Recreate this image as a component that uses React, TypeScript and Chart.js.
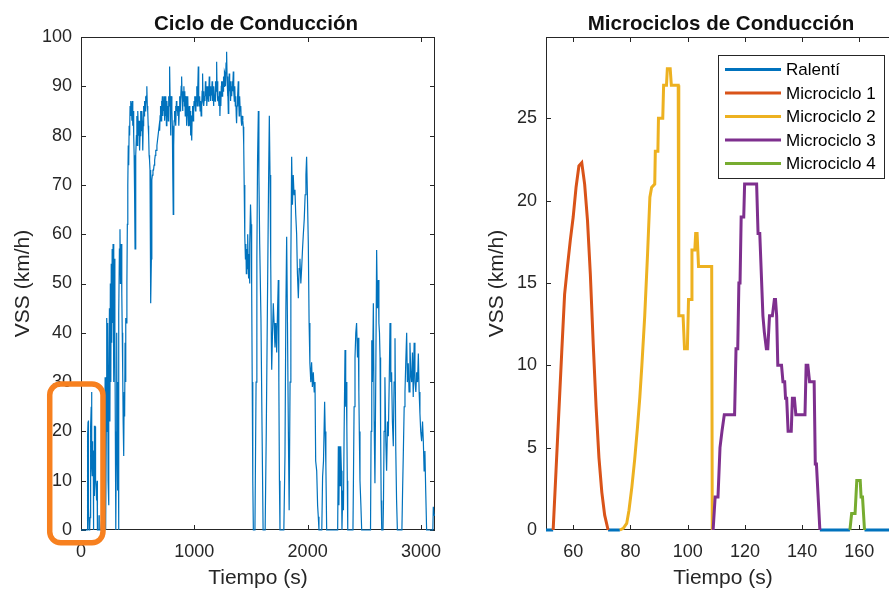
import React, { useEffect, useRef } from "react";
import { Chart, registerables } from "chart.js";

Chart.register(...registerables);

const FONT = "'Liberation Sans', Arial, Helvetica, sans-serif";
const AXIS_COLOR = "#262626";

// ---------- Left panel: full driving cycle, [time s, speed km/h] ----------
const cycleStart: [number, number][] = [
  [0, 0], [20, 0], [40, 0], [50, 0], [53, 0], [56, 10.5], [58, 16], [60, 19], [62, 22], [63, 22.2],
  [65, 18.5], [67, 11], [69, 4.5], [72, 0], [76, 0], [78, 0.3], [80, 2.5], [82, 6.5], [84, 10.5], [86, 16.5],
  [88, 21], [90, 25], [92, 27], [93, 28], [96, 27], [97, 13], [99, 11], [101, 14], [103, 18], [104, 16],
  [108, 16], [109, 0], [110, 2], [112, 5], [113, 7], [116, 7], [117, 11], [118, 15], [119, 19], [120, 21],
  [124, 21], [125, 18], [126, 13], [127, 11], [128, 13], [130, 14], [131, 13], [132, 10], [134, 8], [135, 6],
  [137, 8], [138, 7], [141, 7], [142, 10], [144, 9], [145, 4], [146, 0], [157, 0], [158, 1], [159, 3],
  [160, 3], [161, 2], [162, 0], [175, 0], [182, 2], [190, 0], [205, 0],
];
const cycleUrban1: [number, number][] = [
  [210, 22], [213, 31], [216, 15], [219, 0], [223, 20], [227, 43], [231, 30], [235, 42], [239, 10], [243, 5],
  [247, 28], [251, 45], [255, 22], [259, 50], [263, 30], [267, 54], [271, 38], [275, 57], [279, 42], [283, 58],
  [287, 48], [291, 30], [295, 55], [299, 40], [303, 20], [307, 0], [311, 15], [315, 40], [319, 20], [323, 8],
  [327, 30], [331, 0], [335, 44], [339, 57], [344, 61], [348, 50], [352, 56], [356, 58], [360, 48], [364, 40],
  [368, 32], [372, 22], [377, 15], [381, 28], [385, 23], [389, 38], [393, 30], [397, 43], [401, 42], [405, 50],
  [409, 62], [413, 70], [417, 78],
];
const cycleHighway: [number, number][] = [
  [421, 74], [425, 82], [429, 80], [433, 86], [437, 84], [441, 87], [445, 86], [449, 83], [453, 87], [457, 82],
  [461, 85], [465, 80], [469, 76], [473, 68], [477, 57], [481, 68], [485, 76], [489, 80], [493, 84], [497, 78],
  [501, 85], [505, 82], [509, 80], [513, 83], [517, 77], [521, 80], [525, 83], [529, 85], [533, 81], [537, 85],
  [541, 83], [545, 77], [549, 82], [553, 86], [557, 84], [561, 87], [565, 85], [569, 88], [573, 86], [577, 88],
  [581, 90], [585, 86], [589, 85], [593, 82], [597, 80], [601, 76], [605, 75], [609, 73], [613, 70], [617, 46],
  [621, 55], [625, 71], [630, 72], [635, 73], [640, 73], [645, 74], [650, 75], [655, 76], [660, 77], [665, 77],
  [670, 78], [675, 79], [680, 80], [685, 80], [690, 82], [694, 81], [698, 84], [702, 86], [706, 83], [710, 87],
  [714, 85], [718, 88], [722, 84], [726, 87], [730, 85], [734, 88], [738, 83], [742, 86], [746, 84], [750, 88],
  [754, 82], [758, 87], [762, 84], [766, 86], [770, 83], [774, 88], [778, 86], [782, 94], [786, 88], [790, 80],
  [794, 86], [798, 88], [802, 85], [806, 82], [810, 72], [814, 64], [818, 78], [822, 83], [826, 85], [830, 84],
  [834, 86], [838, 82], [842, 87], [846, 85], [850, 86], [855, 84], [859, 86], [863, 82], [867, 85], [871, 88],
  [875, 85], [879, 87], [884, 90], [888, 92], [892, 88], [896, 85], [900, 89], [904, 87], [908, 90], [912, 86],
  [916, 89], [920, 84], [924, 87], [928, 88], [932, 82], [936, 85], [940, 84], [944, 88], [948, 82], [952, 85],
  [956, 86], [960, 82], [964, 85], [968, 80], [972, 84], [977, 79], [981, 84], [985, 86], [990, 83], [994, 85],
  [998, 87], [1002, 86], [1006, 88], [1010, 85], [1014, 88], [1018, 87], [1022, 90], [1026, 86], [1030, 89], [1035, 94],
  [1039, 88], [1043, 86], [1047, 88], [1051, 85], [1055, 87], [1060, 84], [1065, 86], [1069, 89], [1073, 92.6], [1077, 87],
  [1081, 89], [1085, 86], [1089, 88], [1094, 87], [1098, 91], [1102, 88], [1106, 90], [1110, 86], [1115, 89], [1120, 90],
  [1124, 87], [1128, 89], [1132, 92], [1136, 88], [1140, 90], [1144, 87], [1148, 89], [1153, 88.6], [1157, 91], [1161, 87],
  [1165, 89], [1169, 86], [1173, 90], [1177, 88], [1183, 87], [1187, 91], [1192, 89], [1197, 95], [1201, 89], [1205, 91],
  [1209, 87], [1213, 88], [1217, 86], [1222, 89], [1226, 84], [1230, 88], [1234, 86], [1238, 90], [1241, 91], [1245, 88],
  [1250, 91], [1254, 89], [1258, 92], [1262, 90], [1266, 93], [1271, 92.6], [1275, 90], [1280, 94.7], [1285, 97], [1289, 92],
  [1293, 88], [1297, 90], [1300, 84.5], [1304, 88], [1308, 92.6], [1312, 89], [1316, 91], [1320, 87], [1325, 90], [1330, 88],
  [1334, 91], [1338, 89], [1344, 93], [1348, 89], [1353, 87], [1357, 90], [1362, 86], [1366, 88], [1370, 84], [1373, 82.5],
  [1377, 86], [1382, 88], [1388, 91], [1392, 87], [1396, 84], [1400, 88], [1405, 85], [1410, 86], [1414, 83], [1418, 82],
  [1423, 84], [1428, 83], [1432, 81.8],
];
const cycleDescent: [number, number][] = [
  [1436, 78], [1440, 70], [1444, 62], [1447, 59.5], [1451, 55], [1455, 58], [1459, 52], [1463, 57], [1467, 53], [1471, 60],
  [1475, 55], [1479, 51], [1483, 56], [1487, 50], [1491, 58], [1496, 66], [1501, 62], [1506, 50], [1511, 30], [1516, 10],
  [1521, 0], [1535, 0], [1545, 30], [1552, 55], [1558, 75], [1565, 85], [1570, 72], [1577, 58], [1588, 43], [1598, 20],
  [1607, 0], [1625, 0], [1635, 20], [1645, 45], [1655, 70], [1662, 84], [1668, 72], [1674, 55], [1680, 38], [1683, 32.5],
  [1690, 40], [1697, 46], [1704, 42], [1712, 37], [1720, 42], [1727, 36], [1734, 44], [1741, 50.7], [1746, 30], [1751, 10],
  [1756, 0], [1790, 0], [1800, 15], [1808, 45], [1815, 59.5], [1822, 42], [1830, 20], [1837, 4], [1845, 30], [1852, 55],
  [1859, 75.7], [1866, 66], [1873, 72], [1880, 68], [1888, 69], [1895, 64], [1903, 60], [1910, 52], [1918, 47], [1925, 53],
  [1932, 55], [1940, 50], [1947, 53], [1955, 57], [1962, 60], [1970, 63], [1978, 68], [1985, 72], [1991, 75.7], [1998, 68],
  [2006, 58], [2013, 42], [2020, 33.8], [2028, 30], [2035, 34], [2042, 29], [2050, 32], [2058, 28], [2065, 30], [2071, 14],
  [2080, 12], [2088, 5], [2094, 2.7], [2100, 0], [2125, 0], [2132, 10.8], [2140, 14], [2150, 26], [2155, 20], [2161, 13],
  [2168, 0],
];
const cycleUrban2: [number, number][] = [
  [2265, 0], [2271, 17], [2276, 5], [2281, 17], [2287, 9], [2292, 17], [2298, 12], [2303, 0], [2310, 8], [2316, 4],
  [2322, 20], [2330, 36.5], [2336, 25], [2341, 30], [2346, 21], [2350, 10], [2354, 0], [2400, 0], [2405, 12], [2410, 25],
  [2418, 35], [2425, 40], [2432, 42], [2440, 35], [2447, 39], [2452, 28], [2456, 20], [2462, 10], [2470, 5], [2477, 0],
  [2555, 0], [2560, 20], [2566, 38.5], [2572, 30], [2580, 46], [2587, 22], [2594, 9.5], [2601, 30], [2609, 56.8], [2616, 45],
  [2624, 50.7], [2629, 42], [2634, 40], [2639, 35], [2644, 20], [2649, 6], [2654, 0], [2665, 0], [2669, 5], [2675, 20],
  [2682, 31], [2690, 18], [2697, 12], [2705, 22], [2712, 19], [2720, 30], [2727, 42], [2734, 30], [2741, 32], [2748, 22],
  [2756, 17], [2763, 30], [2771, 38.9], [2778, 16], [2785, 6], [2792, 0], [2832, 0], [2838, 8], [2844, 15], [2852, 25],
  [2859, 28], [2866, 34], [2874, 40], [2880, 30], [2888, 33.8], [2895, 28], [2903, 38], [2910, 32], [2918, 30], [2925, 36],
  [2932, 27], [2940, 38], [2947, 30], [2955, 28], [2962, 32], [2970, 30], [2977, 35.8], [2984, 28], [2991, 23.7], [2998, 20],
  [3006, 18], [3014, 22], [3021, 18], [3028, 12], [3035, 16], [3042, 8], [3050, 0], [3105, 0], [3109, 4.7], [3116, 3],
  [3124, 3],
];

const leftXTicks = [0, 1000, 2000, 3000];
const leftYTicks = [0, 10, 20, 30, 40, 50, 60, 70, 80, 90, 100];
const highlightTime = [-276, 194];
const highlightSpeed = [-2.6, 29.6];

// ---------- Right panel: micro-cycles ----------
const idleTime = [50.5, 53, 53, 72.2, 76.3, 76.3, 146.2, 156.7, 156.7, 161.8, 175];
const idleSpeed = [0, 0, null, 0, 0, null, 0, 0, null, 0, 0];

const micro1Time = [53, 54, 55, 56, 57, 58, 59, 60, 61, 62, 63, 64, 65, 66, 67, 68, 69, 70, 71, 72.2];
const micro1Speed = [0, 3.6, 7.2, 10.8, 14.3, 16, 17.6, 19, 20.8, 22.1, 22.3, 21, 18.8, 15.5, 11.3, 7.5, 4.4, 2.3, 0.9, 0];

const micro2Time = [76.3, 77.5, 78.7, 79.5, 80.5, 81.5, 82.5, 83.3, 84, 85, 86, 86.8, 87.4, 88.5, 88.7, 89.6, 89.8, 91.3, 91.6, 92.6, 92.9, 93.9, 94.3, 96.7, 96.9, 98.4, 98.9, 99.9, 100.3, 101.2, 101.5, 102.5, 102.8, 103.3, 103.8, 108.4, 108.6];
const micro2Speed = [0, 0.1, 0.4, 1.2, 2.6, 4.3, 6.3, 8.1, 10, 13, 16.8, 20.2, 20.8, 21, 23, 23, 25, 25, 27, 27, 28, 28, 27, 27, 13, 13, 11, 11, 14, 14, 17, 17, 18, 18, 16, 16, 0];

const micro3Time = [108.9, 109.6, 110.6, 111.3, 112, 112.8, 116.4, 116.9, 117.5, 117.9, 118.3, 118.7, 119.6, 119.9, 124.1, 124.6, 125.2, 126.3, 126.8, 127.5, 128, 128.6, 129.6, 130.3, 130.7, 131.1, 131.5, 132.8, 133.3, 133.9, 134.2, 134.6, 135.1, 136.2, 136.6, 137.3, 137.8, 141, 141.4, 142, 142.6, 144.2, 144.6, 145, 146.2];
const micro3Speed = [0, 2, 2, 5, 6, 7, 7, 11, 11, 15, 15, 19, 19, 21, 21, 18, 18, 13, 12, 11, 11, 13, 13, 14, 14, 13, 10, 10, 9, 9, 8, 8, 6, 6, 8, 8, 7, 7, 10, 10, 9, 9, 4, 4, 0];

const micro4Time = [156.7, 157.3, 158.5, 159.1, 160.3, 160.6, 161.1, 161.8];
const micro4Speed = [0, 1, 1, 3, 3, 2, 2, 0];

const rightXTicks = [60, 80, 100, 120, 140, 160];
const rightYTicks = [0, 5, 10, 15, 20, 25];

const seriesLabels = ["Ralentí", "Microciclo 1", "Microciclo 2", "Microciclo 3", "Microciclo 4"];
const seriesColors = ["#0072BD", "#D95319", "#EDB120", "#7E2F8E", "#77AC30"];

// ---------- plugins ----------
const boxPlugin = {
  id: "matlabBox",
  beforeDatasetsDraw(chart: any) {
    const { ctx, chartArea: a, scales } = chart;
    ctx.save();
    ctx.strokeStyle = AXIS_COLOR;
    ctx.lineWidth = 1;
    ctx.strokeRect(a.left + 0.5, a.top + 0.5, a.right - a.left - 1, a.bottom - a.top - 1);
    const len = 5;
    ctx.beginPath();
    for (const t of scales.x.ticks) {
      const px = Math.round(scales.x.getPixelForValue(t.value)) + 0.5;
      ctx.moveTo(px, a.bottom);
      ctx.lineTo(px, a.bottom - len);
      ctx.moveTo(px, a.top);
      ctx.lineTo(px, a.top + len);
    }
    for (const t of scales.y.ticks) {
      const py = Math.round(scales.y.getPixelForValue(t.value)) + 0.5;
      ctx.moveTo(a.left, py);
      ctx.lineTo(a.left + len, py);
      ctx.moveTo(a.right, py);
      ctx.lineTo(a.right - len, py);
    }
    ctx.stroke();
    ctx.restore();
  },
};

const panelTitlePlugin = {
  id: "panelTitle",
  afterDraw(chart: any, _args: any, opts: any) {
    const { ctx, chartArea: a } = chart;
    ctx.save();
    ctx.font = `bold 20.5px ${FONT}`;
    ctx.fillStyle = "#111111";
    ctx.textAlign = "center";
    ctx.textBaseline = "alphabetic";
    ctx.fillText(opts.text, (a.left + a.right) / 2 - 2, 29.5);
    ctx.restore();
  },
};

const highlightPlugin = {
  id: "highlight",
  afterDatasetsDraw(chart: any) {
    const { ctx, scales } = chart;
    const x0 = scales.x.getPixelForValue(highlightTime[0]);
    const x1 = scales.x.getPixelForValue(highlightTime[1]);
    const y0 = scales.y.getPixelForValue(highlightSpeed[1]);
    const y1 = scales.y.getPixelForValue(highlightSpeed[0]);
    ctx.save();
    ctx.strokeStyle = "#F7801F";
    ctx.lineWidth = 5.5;
    ctx.beginPath();
    ctx.roundRect(x0, y0, x1 - x0, y1 - y0, 11);
    ctx.stroke();
    ctx.restore();
  },
};

const boxLegendPlugin = {
  id: "boxLegend",
  afterDraw(chart: any) {
    const { ctx, chartArea: a } = chart;
    const bx = a.right - 182;
    const by = a.top + 18;
    const bw = 166;
    const bh = 123;
    ctx.save();
    ctx.fillStyle = "#ffffff";
    ctx.fillRect(bx, by, bw, bh);
    ctx.strokeStyle = AXIS_COLOR;
    ctx.lineWidth = 1;
    ctx.strokeRect(bx + 0.5, by + 0.5, bw, bh);
    ctx.font = `17px ${FONT}`;
    ctx.textBaseline = "middle";
    ctx.textAlign = "left";
    chart.data.datasets.forEach((ds: any, i: number) => {
      const y = by + 14.5 + i * 23.5;
      ctx.strokeStyle = ds.borderColor;
      ctx.lineWidth = 3;
      ctx.beginPath();
      ctx.moveTo(bx + 7, y);
      ctx.lineTo(bx + 63, y);
      ctx.stroke();
      ctx.fillStyle = "#000000";
      ctx.fillText(ds.label, bx + 68, y + 1);
    });
    ctx.restore();
  },
};

function axisConfig(
  min: number,
  max: number,
  ticks: number[],
  title: string,
  isX: boolean,
  size: number
) {
  return {
    type: "linear",
    min,
    max,
    afterBuildTicks: (s: any) => {
      s.ticks = ticks.map((v) => ({ value: v }));
    },
    afterFit: (s: any) => {
      if (isX) s.height = size;
      else s.width = size;
    },
    grid: { display: false, drawTicks: false, tickLength: 0 },
    border: { display: false },
    ticks: {
      autoSkip: false,
      maxRotation: 0,
      padding: isX ? 11 : 9,
      color: AXIS_COLOR,
      font: { family: FONT, size: 18 },
      callback: (v: any) => String(v),
    },
    title: {
      display: true,
      text: title,
      color: AXIS_COLOR,
      font: { family: FONT, size: 21, lineHeight: 1.1 },
      padding: isX ? { top: 0, bottom: 0 } : { top: 12, bottom: 0 },
    },
  };
}

const toPoints = (pairs: [number, number][]) => pairs.map(([x, y]) => ({ x, y }));
const zipPoints = (xs: number[], ys: (number | null)[]) => xs.map((x, i) => ({ x, y: ys[i] }));

export default function App() {
  const leftRef = useRef<HTMLCanvasElement>(null);
  const rightRef = useRef<HTMLCanvasElement>(null);

  useEffect(() => {
    const cycle = [...cycleStart, ...cycleUrban1, ...cycleHighway, ...cycleDescent, ...cycleUrban2];
    const left = new Chart(leftRef.current as HTMLCanvasElement, {
      type: "line",
      data: {
        datasets: [
          {
            label: "VSS",
            data: toPoints(cycle),
            borderColor: "#0072BD",
            borderWidth: 1.2,
            pointRadius: 0,
            tension: 0,
            clip: 2,
          },
        ],
      },
      options: {
        responsive: false,
        animation: false,
        parsing: false,
        layout: { padding: { left: 0, right: 39, top: 37, bottom: 0 } },
        plugins: {
          legend: { display: false },
          tooltip: { enabled: false },
          panelTitle: { text: "Ciclo de Conducción" },
        } as any,
        scales: {
          x: axisConfig(0, 3124, leftXTicks, "Tiempo (s)", true, 60),
          y: axisConfig(0, 100, leftYTicks, "VSS (km/h)", false, 81),
        } as any,
      },
      plugins: [boxPlugin, panelTitlePlugin, highlightPlugin],
    } as any);

    const seriesData = [
      zipPoints(idleTime, idleSpeed),
      zipPoints(micro1Time, micro1Speed),
      zipPoints(micro2Time, micro2Speed),
      zipPoints(micro3Time, micro3Speed),
      zipPoints(micro4Time, micro4Speed),
    ];
    const right = new Chart(rightRef.current as HTMLCanvasElement, {
      type: "line",
      data: {
        datasets: seriesData.map((d, i) => ({
          label: seriesLabels[i],
          data: d,
          borderColor: seriesColors[i],
          backgroundColor: seriesColors[i],
          borderWidth: 3,
          pointRadius: 0,
          tension: 0,
          spanGaps: false,
          clip: 4,
          order: seriesLabels.length - i,
        })),
      },
      options: {
        responsive: false,
        animation: false,
        parsing: false,
        layout: { padding: { left: 0, right: 5, top: 37, bottom: 0 } },
        plugins: {
          legend: { display: false },
          tooltip: { enabled: false },
          panelTitle: { text: "Microciclos de Conducción" },
        } as any,
        scales: {
          x: axisConfig(50.5, 174.2, rightXTicks, "Tiempo (s)", true, 60),
          y: axisConfig(0, 29.93, rightYTicks, "VSS (km/h)", false, 72),
        } as any,
      },
      plugins: [boxPlugin, panelTitlePlugin, boxLegendPlugin],
    } as any);

    return () => {
      left.destroy();
      right.destroy();
    };
  }, []);

  return (
    <div
      style={{
        position: "fixed",
        left: 0,
        top: 0,
        width: 889,
        height: 590,
        overflow: "hidden",
        background: "#ffffff",
      }}
    >
      <canvas
        ref={leftRef}
        width={474}
        height={590}
        style={{ position: "absolute", left: 0, top: 0, display: "block" }}
      />
      <canvas
        ref={rightRef}
        width={431}
        height={590}
        style={{ position: "absolute", left: 474, top: 0, display: "block" }}
      />
    </div>
  );
}
